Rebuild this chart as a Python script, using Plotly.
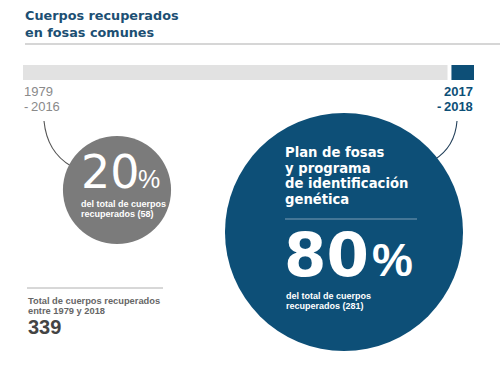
import math
import plotly.graph_objects as go

# ---------------- data ----------------
periods = ["1979-2016", "2017-2018"]
start_years = [1979, 2017]
end_years = [2016, 2018]
period_labels = [["1979", "-\u20092016"], ["2017", "-\u20092018"]]
counts = [58, 281]          # cuerpos recuperados
shares = [20, 80]           # % del total
total_label_years = ["1979", "2018"]
heading_lines = ["Plan de fosas", "y programa", "de identificación", "genética"]
title_lines = ["Cuerpos recuperados", "en fosas comunes"]

# ---------------- style ----------------
W, H = 500, 368
SANS = "Liberation Sans, Arial, sans-serif"
WIDE = "DejaVu Sans, Verdana, sans-serif"
BLUE = "#0d4f77"
TITLE_BLUE = "#1c4f73"
GRAY_BAR = "#e2e2e2"
GRAY_CIRCLE = "#7b7b7b"
GAP_YEARS = 0.35
SIZE_K = 14.2

fig = go.Figure()

# Timeline bar (years axis)
bar_colors = [GRAY_BAR, BLUE]
for i in range(len(periods)):
    length = end_years[i] + 1 - start_years[i]
    if i == 0:
        length -= GAP_YEARS
    fig.add_trace(go.Bar(
        y=[0], x=[length], base=[start_years[i]], orientation="h",
        marker=dict(color=bar_colors[i], line=dict(width=0)), width=1,
        xaxis="x", yaxis="y", hoverinfo="skip", showlegend=False,
    ))

# Bubbles (area proportional to count)
centers_x = [117, 344]
centers_y = [190, 232]
fig.add_trace(go.Scatter(
    x=centers_x, y=centers_y, mode="markers",
    marker=dict(size=[SIZE_K * math.sqrt(c) for c in counts],
                sizemode="diameter", color=[GRAY_CIRCLE, BLUE],
                line=dict(width=0), opacity=1),
    xaxis="x2", yaxis="y2", hoverinfo="skip", showlegend=False,
))

annotations = []


def txt(x, baseline, s, size, color, family=SANS, bold=False, xanchor="left"):
    t = f"<b>{s}</b>" if bold else s
    annotations.append(dict(
        x=x, y=baseline - 0.35 * size, xref="x2", yref="y2", text=t,
        showarrow=False, xanchor=xanchor, yanchor="middle", borderpad=0,
        font=dict(family=family, size=size, color=color), align=xanchor,
    ))


# Title
txt(24, 20, title_lines[0], 12.8, TITLE_BLUE, family=WIDE, bold=True)
txt(24, 36.5, title_lines[1], 12.8, TITLE_BLUE, family=WIDE, bold=True)

# Period labels
txt(23, 96, period_labels[0][0], 13, "#8a8a8a")
txt(23, 111, period_labels[0][1], 13, "#8a8a8a")
txt(474, 96, period_labels[1][0], 13, BLUE, bold=True, xanchor="right")
txt(474, 111, period_labels[1][1], 13, BLUE, bold=True, xanchor="right")

# Gray bubble text
txt(80, 188, f"{shares[0]}", 46, "white", family=WIDE)
txt(137, 188, "%", 25, "white")
txt(80, 207, "del total de cuerpos", 9, "white", bold=True)
txt(80, 217, f"recuperados ({counts[0]})", 9, "white", bold=True)

# Blue bubble text
for i, line in enumerate(heading_lines):
    txt(284, 157.5 + 15.5 * i, line, 13.2, "white", family=WIDE, bold=True)
txt(283, 276, f"{shares[1]}", 61, "white", family=WIDE, bold=True)
txt(371, 276, "%", 46, "white", bold=True)
txt(285, 299, "del total de cuerpos", 9, "white", bold=True)
txt(285, 309, f"recuperados ({counts[1]})", 9, "white", bold=True)

# Total
txt(27, 304, "Total de cuerpos recuperados", 9.3, "#666666", bold=True)
txt(27, 314, f"entre {total_label_years[0]} y {total_label_years[1]}", 9.3, "#666666", bold=True)
txt(27, 334, f"{sum(counts)}", 20, "#444444", bold=True)

shapes = [
    dict(type="line", xref="x2", yref="y2", x0=25, x1=500, y0=44, y1=44,
         line=dict(color="#c8c8c8", width=1.5)),
    dict(type="line", xref="x2", yref="y2", x0=285, x1=417, y0=219, y1=219,
         line=dict(color="#7c9db5", width=1.2)),
    dict(type="line", xref="x2", yref="y2", x0=27, x1=163, y0=288, y1=288,
         line=dict(color="#b0b0b0", width=1)),
    dict(type="path", xref="x2", yref="y2", path="M 44 121 Q 47 152 71 166",
         line=dict(color="#555555", width=1.1), layer="below"),
    dict(type="path", xref="x2", yref="y2", path="M 457 121 Q 455 147 434 160",
         line=dict(color="#23405a", width=1.1), layer="below"),
]

fig.update_layout(
    width=W, height=H, margin=dict(l=0, r=0, t=0, b=0),
    paper_bgcolor="white", plot_bgcolor="rgba(0,0,0,0)",
    barmode="overlay", showlegend=False,
    xaxis=dict(domain=[23 / W, 474 / W], range=[1979, 2019], visible=False,
               anchor="y", fixedrange=True),
    yaxis=dict(domain=[1 - 80 / H, 1 - 65 / H], range=[-0.5, 0.5], visible=False,
               anchor="x", fixedrange=True),
    xaxis2=dict(domain=[0, 1], range=[0, W], visible=False, anchor="y2",
                fixedrange=True),
    yaxis2=dict(domain=[0, 1], range=[H, 0], visible=False, anchor="x2",
                fixedrange=True),
    annotations=annotations, shapes=shapes,
)

fig.write_html("out.html")
